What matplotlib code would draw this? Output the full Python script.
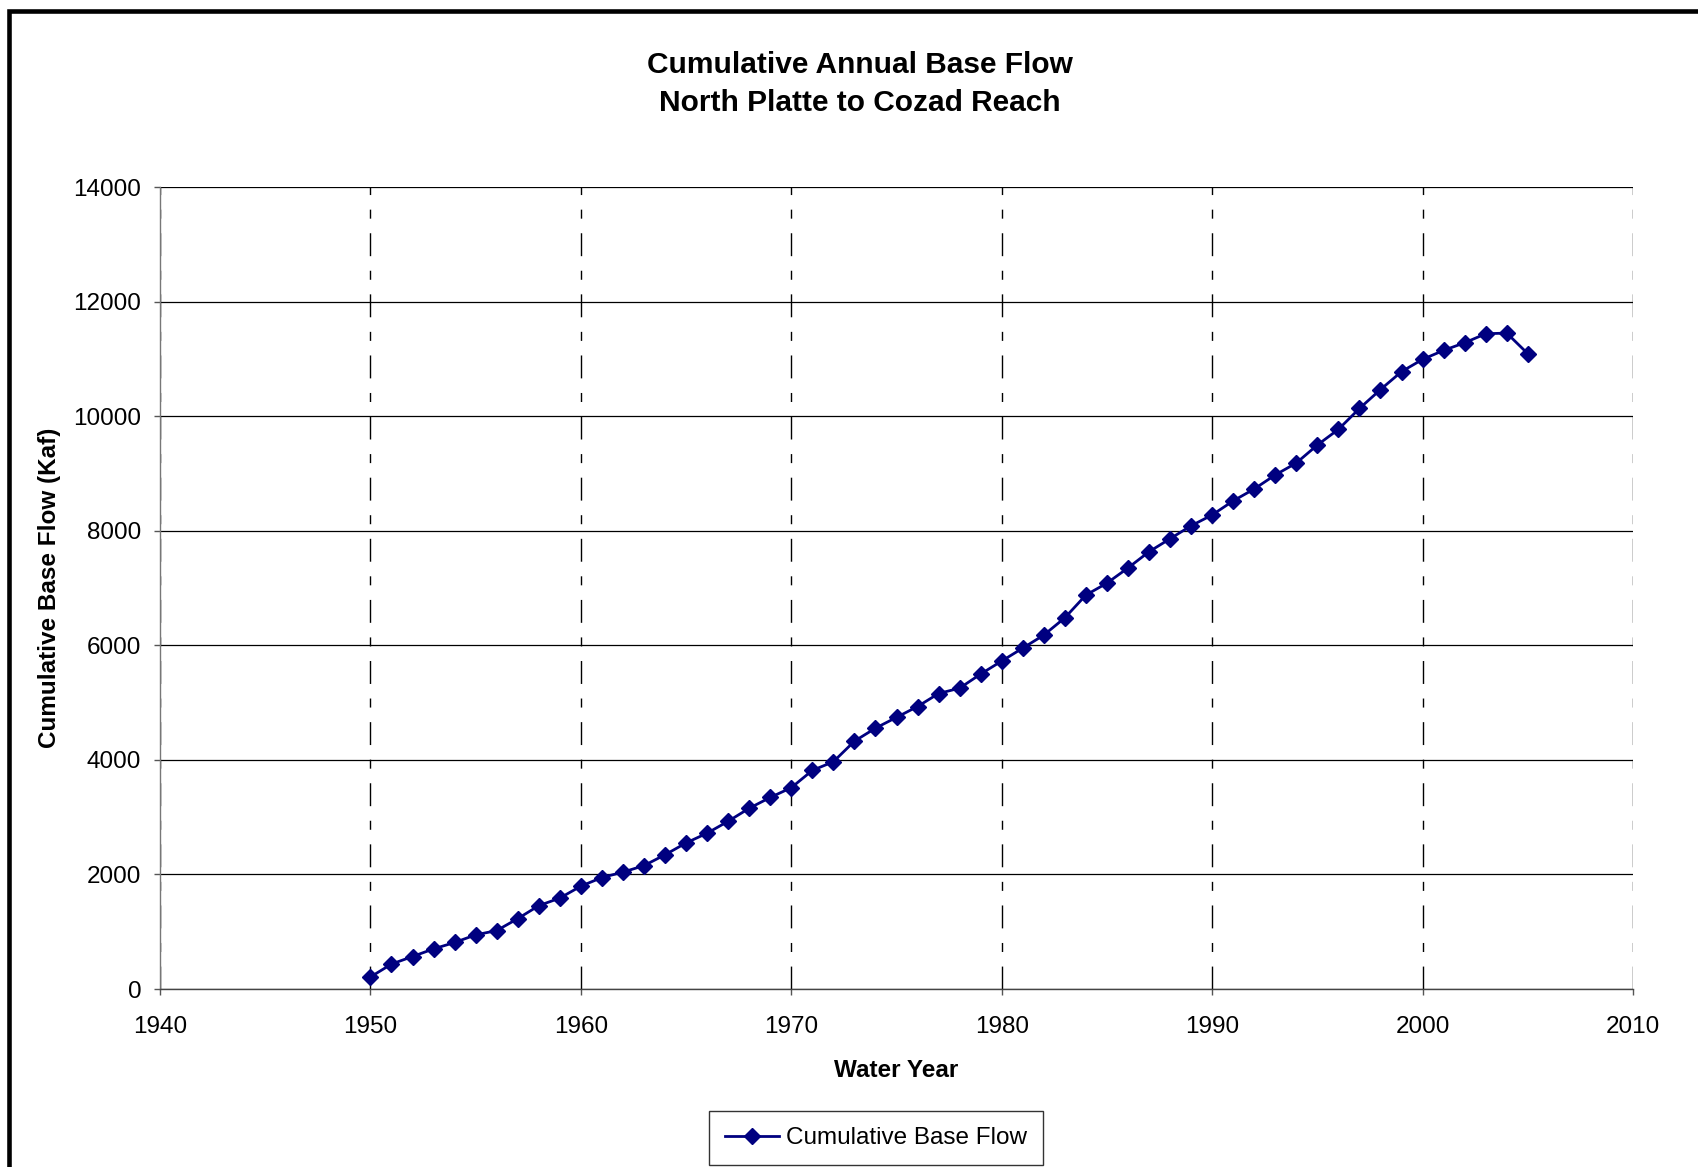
import matplotlib
matplotlib.use("Agg")
import matplotlib.pyplot as plt
from matplotlib.patches import Rectangle

## Daten
years = list(range(1950, 2006))
base_flow = [
    210, 435, 567, 700, 812, 945, 1020, 1228, 1455, 1587,
    1795, 1946, 2040, 2154, 2343, 2550, 2720, 2928, 3155, 3344,
    3514, 3816, 3967, 4326, 4553, 4742, 4931, 5158, 5252, 5498,
    5725, 5951, 6178, 6480, 6877, 7085, 7350, 7633, 7860, 8086,
    8275, 8521, 8729, 8974, 9182, 9496, 9769, 10134, 10464, 10777,
    10991, 11148, 11281, 11438, 11450, 11090,
]
x_ticks = list(range(1940, 2011, 10))
y_ticks = list(range(0, 14001, 2000))

plt.rcParams["font.family"] = ["Liberation Sans", "DejaVu Sans"]

fig = plt.figure(figsize=(16.98, 11.67), dpi=100)
ax = fig.add_axes([160 / 1698, 1 - 989 / 1167, 1473 / 1698, 802 / 1167])

line, = ax.plot(years, base_flow, color="#000080", lw=2.0,
                marker="D", ms=8.0, mfc="#000080", mec="#000080",
                label="Cumulative Base Flow", zorder=3)

ax.set_xlim(1940, 2010)
ax.set_ylim(0, 14000)
ax.set_xticks(x_ticks)
ax.set_yticks(y_ticks)

# Gitternetz: horizontal durchgezogen, vertikal strich-punkt
ax.grid(axis="y", color="black", lw=0.9, ls="-", zorder=1)
ax.grid(axis="x", color="black", lw=1.0, ls=(0, (16.5, 10.5, 6.5, 10.5)), zorder=1)

for side in ["top", "right"]:
    ax.spines[side].set_visible(False)
ax.spines["left"].set_color("#777777")
ax.spines["bottom"].set_color("#444444")
ax.spines["left"].set_linewidth(1.0)
ax.spines["bottom"].set_linewidth(1.0)

ax.tick_params(axis="both", direction="out", length=4.5, width=1.0,
               color="#555555", labelsize=17.5)
ax.tick_params(axis="y", pad=9)
ax.tick_params(axis="x", pad=15)

ax.set_xlabel("Water Year", fontsize=17.5, fontweight="bold", labelpad=15)
ax.set_ylabel("Cumulative Base Flow (Kaf)", fontsize=17.5, fontweight="bold")
ax.yaxis.set_label_coords(-(160 - 61) / 1473, 0.5)

fig.text(860 / 1698, 1 - 65 / 1167, "Cumulative Annual Base Flow",
         ha="center", va="center", fontsize=21.5, fontweight="bold")
fig.text(860 / 1698, 1 - 103 / 1167, "North Platte to Cozad Reach",
         ha="center", va="center", fontsize=21.5, fontweight="bold")

leg = fig.legend(handles=[line], loc="center",
                 bbox_to_anchor=(876 / 1698, 1 - 1138 / 1167),
                 fontsize=17.5, frameon=True, fancybox=False,
                 handlelength=2.2, handletextpad=0.3, borderpad=0.65,
                 edgecolor="black")
leg.get_frame().set_linewidth(1.0)

# dicker Rahmen um das Diagramm (rechts und unten abgeschnitten)
fig.patches.append(Rectangle((9 / 1698, -0.1), 1.2, 1 - 11 / 1167 + 0.1,
                             transform=fig.transFigure, fill=False,
                             edgecolor="black", lw=3.3, zorder=10))

fig.savefig("out.png", dpi=100)
